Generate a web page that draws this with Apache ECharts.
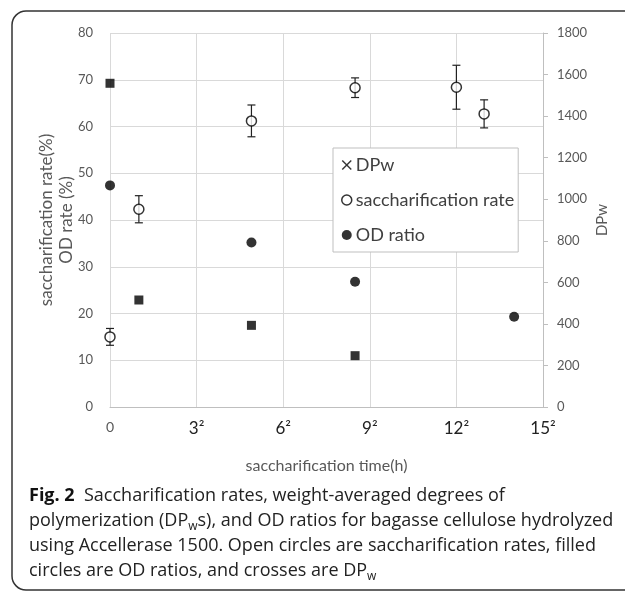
<!DOCTYPE html>
<html>
<head>
<meta charset="utf-8">
<script src="https://cdn.jsdelivr.net/npm/echarts@6/dist/echarts.min.js"></script>
<style>
html,body{margin:0;padding:0;background:#fff;}
#main{width:625px;height:592px;}
</style>
</head>
<body>
<div id="main"></div>
<script>
// x positions are sqrt(time in h), as on the axis
var sqrtTime = [0, 1, 4.9, 8.49, 12, 12.96, 14];
var xTicks = ['0', '3²', '6²', '9²', '12²', '15²'];

// DPw (right axis)
var dpwX = [0, 1, 4.9, 8.49];
var dpwY = [1558, 515, 393, 247];

// saccharification rate (%) with error
var sacX = [0, 1, 4.9, 8.49, 12, 12.96];
var sacY = [15.0, 42.3, 61.2, 68.3, 68.4, 62.7];
var sacErr = [1.8, 2.9, 3.4, 2.1, 4.7, 3.0];

// OD ratio (%)
var odX = [0, 4.9, 8.49, 14];
var odY = [47.4, 35.2, 26.8, 19.3];

var grey = '#595959';
var axisFont = 'Lato, "Open Sans", sans-serif';
var capFont = '"Open Sans", sans-serif';

function pairs(xs, ys) {
	var out = [];
	for (var i = 0; i < xs.length; i++) out.push([xs[i], ys[i]]);
	return out;
}
var errData = [];
for (var i = 0; i < sacX.length; i++) errData.push([sacX[i], sacY[i], sacErr[i]]);

var chart = echarts.init(document.getElementById('main'));
var option = {
	backgroundColor: '#fff',
	animation: false,
	grid: {left: 110, top: 33, right: 82, bottom: 185},
	legend: {
		orient: 'vertical',
		left: 333,
		top: 148,
		width: 185,
		padding: [8, 4, 8, 8],
		itemGap: 17,
		itemWidth: 10,
		itemHeight: 10,
		backgroundColor: '#fff',
		borderColor: '#bfbfbf',
		borderWidth: 1,
		textStyle: {color: '#404040', fontSize: 18, fontFamily: axisFont, padding: [0, 0, 0, -1]},
		data: [
			{name: 'DPw', icon: 'path://M1,0L5,4L9,0L10,1L6,5L10,9L9,10L5,6L1,10L0,9L4,5L0,1Z', itemStyle: {color: '#000'}},
			{name: 'saccharification rate', icon: 'circle', itemStyle: {color: '#fff', borderColor: '#000', borderWidth: 1.5}},
			{name: 'OD ratio', icon: 'circle', itemStyle: {color: '#000'}}
		]
	},
	xAxis: {
		type: 'value',
		min: 0, max: 15, interval: 3,
		name: 'saccharification time(h)',
		nameLocation: 'middle',
		nameMoveOverlap: false,
		nameGap: 51,
		nameTextStyle: {color: grey, fontSize: 16, fontFamily: axisFont},
		axisLine: {show: true, lineStyle: {color: '#bfbfbf', width: 1}},
		axisTick: {show: false},
		splitLine: {show: true, lineStyle: {color: '#d9d9d9', width: 1}},
		axisLabel: {
			margin: 13,
			formatter: function (v) {
				var t = xTicks[Math.round(v / 3)];
				return v === 0 ? '{g|' + t + '}' : '{b|' + t + '}';
			},
			rich: {
				g: {color: grey, fontSize: 14, fontFamily: axisFont},
				b: {color: '#222', fontSize: 17, fontFamily: axisFont}
			}
		}
	},
	yAxis: [{
		type: 'value',
		min: 0, max: 80, interval: 10,
		name: 'saccharification rate(%)\nOD rate (%)',
		nameLocation: 'middle',
		nameMoveOverlap: false,
		nameGap: 33,
		nameTextStyle: {color: grey, fontSize: 17, fontFamily: axisFont, lineHeight: 20},
		axisLine: {show: false},
		axisTick: {show: false},
		splitLine: {show: true, lineStyle: {color: '#d9d9d9', width: 1}},
		axisLabel: {color: grey, fontSize: 13, fontFamily: axisFont, margin: 17}
	}, {
		type: 'value',
		position: 'right',
		min: 0, max: 1800, interval: 200,
		name: 'DPw',
		nameLocation: 'middle',
		nameMoveOverlap: false,
		nameGap: 52,
		nameTextStyle: {color: grey, fontSize: 15, fontFamily: axisFont},
		axisLine: {show: true, lineStyle: {color: '#bfbfbf', width: 1}},
		axisTick: {show: true, length: 5, lineStyle: {color: '#bfbfbf'}},
		splitLine: {show: false},
		axisLabel: {color: grey, fontSize: 13, fontFamily: axisFont, margin: 14,
			formatter: function (v) { return String(v); }}
	}],
	series: [{
		name: 'DPw',
		type: 'scatter',
		yAxisIndex: 1,
		symbol: 'rect',
		symbolSize: 9,
		itemStyle: {color: '#000'},
		data: pairs(dpwX, dpwY),
		z: 3
	}, {
		name: 'error',
		type: 'custom',
		renderItem: function (params, api) {
			var x = api.value(0), y = api.value(1), e = api.value(2);
			var hi = api.coord([x, y + e]);
			var lo = api.coord([x, y - e]);
			var w = 4;
			var st = {stroke: '#222', lineWidth: 1.2};
			return {
				type: 'group',
				children: [
					{type: 'line', shape: {x1: hi[0], y1: hi[1], x2: lo[0], y2: lo[1]}, style: st},
					{type: 'line', shape: {x1: hi[0] - w, y1: hi[1], x2: hi[0] + w, y2: hi[1]}, style: st},
					{type: 'line', shape: {x1: lo[0] - w, y1: lo[1], x2: lo[0] + w, y2: lo[1]}, style: st}
				]
			};
		},
		encode: {x: 0, y: 1},
		data: errData,
		z: 2
	}, {
		name: 'saccharification rate',
		type: 'scatter',
		symbol: 'circle',
		symbolSize: 10,
		itemStyle: {color: '#fff', borderColor: '#000', borderWidth: 1.5},
		data: pairs(sacX, sacY),
		z: 4
	}, {
		name: 'OD ratio',
		type: 'scatter',
		symbol: 'circle',
		symbolSize: 10,
		itemStyle: {color: '#000'},
		data: pairs(odX, odY),
		z: 3
	}],
	graphic: [{
		type: 'rect',
		shape: {x: 12, y: 11, width: 640, height: 579, r: 14},
		style: {fill: 'none', stroke: '#333', lineWidth: 1.5},
		silent: true
	}, {
		type: 'text',
		left: 29,
		top: 483,
		style: {
			text: '{b|Fig. 2}  Saccharification rates, weight-averaged degrees of\n' +
				'polymerization (DP{s|w}s), and OD ratios for bagasse cellulose hydrolyzed\n' +
				'using Accellerase 1500. Open circles are saccharification rates, filled\n' +
				'circles are OD ratios, and crosses are DP{s|w}',
			fill: '#222',
			fontSize: 18,
			fontFamily: capFont,
			lineHeight: 25,
			rich: {
				b: {fontWeight: 'bold', fontSize: 18, fontFamily: capFont, fill: '#111', lineHeight: 25},
				s: {fontSize: 12, fontFamily: capFont, fill: '#222', verticalAlign: 'bottom', lineHeight: 14}
			}
		}
	}]
};
chart.setOption(option);
</script>
</body>
</html>
